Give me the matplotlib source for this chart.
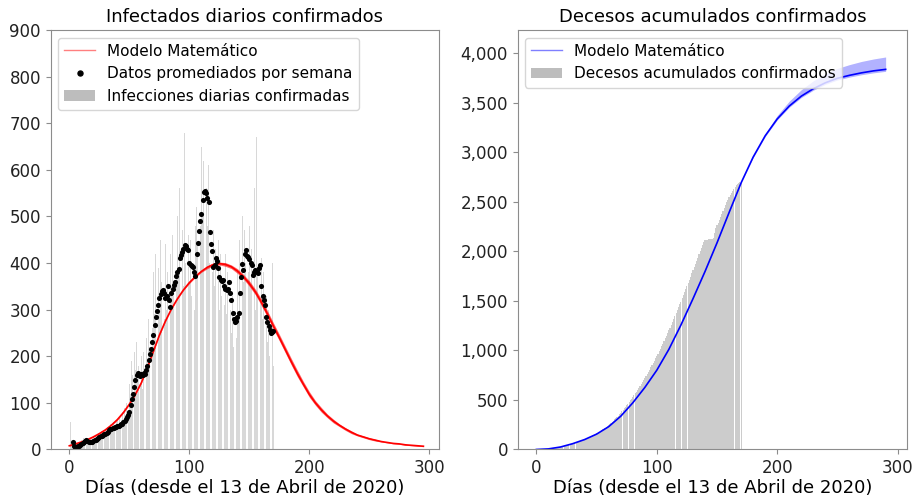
import numpy as np
import matplotlib
matplotlib.use("Agg")
import matplotlib.pyplot as plt
from matplotlib.lines import Line2D
from matplotlib.patches import Patch
from matplotlib.ticker import StrMethodFormatter

# ---------------- data ----------------
daily_cases = [
    2, 60, 10, 5, 3, 8, 2, 12, 6, 15,
    20, 14, 25, 18, 10, 22, 12, 18, 25, 15,
    28, 20, 30, 22, 35, 25, 32, 40, 28, 38,
    45, 30, 48, 40, 55, 42, 50, 60, 45, 58,
    62, 48, 70, 55, 80, 60, 90, 75, 100, 85,
    140, 120, 190, 160, 210, 170, 230, 150, 180, 140,
    200, 130, 210, 160, 240, 190, 280, 220, 300, 260,
    380, 290, 420, 330, 390, 300, 450, 360, 410, 280,
    440, 300, 380, 260, 420, 350, 460, 330, 480, 370,
    500, 380, 560, 420, 470, 350, 680, 400, 520, 460,
    360, 450, 330, 420, 300, 480, 520, 440, 600, 480,
    650, 500, 620, 590, 560, 480, 610, 400, 520, 380,
    470, 350, 430, 380, 450, 300, 420, 330, 400, 310,
    420, 290, 380, 330, 300, 250, 330, 220, 310, 240,
    380, 280, 450, 340, 500, 360, 470, 400, 520, 380,
    480, 350, 430, 330, 560, 300, 671, 380, 450, 320,
    410, 280, 380, 240, 330, 230, 300, 200, 350, 400,
    180,
]

weekly_start_day = 3
weekly_avg = [
    15, 8, 5, 6, 7, 8, 10, 12,
    14, 16, 19, 20, 18, 16, 15, 15, 17, 19,
    20, 21, 22, 24, 26, 28, 29, 31, 33, 34,
    36, 38, 41, 43, 45, 46, 47, 48, 49, 50,
    51, 52, 54, 55, 58, 62, 66, 70, 74, 80,
    95, 108, 120, 135, 150, 160, 165, 162, 158, 162,
    160, 165, 163, 170, 180, 192, 205, 215, 230, 245,
    268, 285, 298, 310, 325, 333, 340, 343, 335, 325,
    330, 350, 320, 306, 335, 345, 352, 360, 372, 380,
    388, 410, 417, 424, 430, 438, 436, 430, 427, 400,
    395, 393, 392, 380, 372, 420, 442, 468, 490, 505,
    535, 553, 555, 550, 540, 530, 467, 440, 425, 392,
    395, 410, 405, 389, 370, 364, 362, 364, 350, 345,
    342, 345, 360, 335, 321, 292, 280, 274, 276, 285,
    292, 335, 370, 399, 385, 420, 429, 415, 412, 408,
    401, 395, 374, 380, 385, 380, 378, 390, 396, 350,
    330, 321, 310, 285, 274, 265, 256, 249, 253, 255,
]

# model for daily infections, every 5 days from day 0 to 295
model_cases = [
    8, 12, 16, 21, 27, 34, 42, 52, 64, 79,
    97, 118, 143, 175, 210, 245, 275, 301, 323, 342,
    358, 371, 382, 391, 397, 399, 397, 392, 383, 371,
    356, 338, 316, 291, 265, 240, 214, 188, 163, 140,
    118, 100, 85, 72, 61, 52, 44, 37, 31, 27,
    23, 20, 17, 15, 13, 12, 10, 9, 8, 7,
]
model_cases_spread = [
    1, 1, 1, 1, 1, 1, 1, 1, 1, 1,
    1, 1, 1, 1, 1, 1, 1, 1, 1, 1,
    2, 2, 2, 3, 3, 3, 4, 4, 5, 5,
    6, 6, 7, 7, 7, 7, 7, 7, 7, 6,
    6, 5, 5, 4, 4, 3, 3, 3, 2, 2,
    2, 2, 1, 1, 1, 1, 1, 1, 1, 1,
]

cum_deaths = [
    0, 0, 0, 1, 1, 2, 2, 3, 4, 5,
    6, 7, 8, 10, 11, 13, 15, 17, 19, 21,
    23, 25, 28, 31, 34, 37, 40, 44, 48, 52,
    56, 60, 64, 68, 72, 76, 80, 85, 90, 95,
    100, 106, 112, 118, 124, 130, 136, 143, 150, 157,
    164, 171, 178, 186, 194, 202, 211, 220, 229, 238,
    247, 258, 269, 280, 292, 304, 316, 329, 342, 356,
    370, 385, 400, 415, 430, 446, 462, 478, 495, 512,
    530, 548, 566, 584, 603, 622, 641, 661, 681, 701,
    721, 742, 763, 784, 806, 828, 850, 873, 896, 920,
    944, 968, 993, 1018, 1043, 1069, 1095, 1121, 1148, 1175,
    1202, 1230, 1258, 1286, 1315, 1344, 1373, 1403, 1433, 1463,
    1493, 1524, 1555, 1586, 1617, 1648, 1680, 1712, 1744, 1776,
    1808, 1840, 1872, 1904, 1936, 1968, 2000, 2030, 2060, 2090,
    2110, 2115, 2118, 2120, 2122, 2125, 2128, 2130, 2180, 2230,
    2260, 2290, 2320, 2350, 2380, 2410, 2440, 2470, 2495, 2520,
    2545, 2570, 2590, 2610, 2630, 2650, 2665, 2680, 2690, 2700,
    2710,
]

# model for cumulative deaths, every 10 days from day 0 to 290
model_deaths = [
    0, 6, 25, 58, 100, 155, 230, 335, 470, 625,
    800, 1010, 1255, 1520, 1795, 2085, 2390, 2690, 2950, 3165,
    3335, 3465, 3565, 3640, 3700, 3745, 3775, 3800, 3820, 3835,
]
model_deaths_up = [
    0, 0, 0, 0, 0, 0, 0, 0, 0, 0,
    0, 0, 0, 0, 0, 0, 0, 0, 10, 20,
    35, 50, 65, 80, 90, 100, 108, 115, 120, 125,
]
model_deaths_down = [
    0, 0, 0, 0, 0, 0, 0, 0, 0, 0,
    0, 0, 0, 0, 0, 0, 0, 0, 5, 8,
    10, 12, 14, 15, 16, 17, 18, 19, 20, 20,
]

title_left = "Infectados diarios confirmados"
title_right = "Decesos acumulados confirmados"
xlabel = "Días (desde el 13 de Abril de 2020)"

# ---------------- figure ----------------
plt.rcParams['font.family'] = ['DejaVu Sans']
fig = plt.figure(figsize=(9.15, 4.97), dpi=100)
ax1 = fig.add_axes([0.0554, 0.0956, 0.4244, 0.844])
ax2 = fig.add_axes([0.5658, 0.0956, 0.4258, 0.844])

spine_col = '#8c8c8c'

# ---- left ----
days_c = np.arange(len(daily_cases))
ax1.bar(days_c, daily_cases, width=0.7, color='#cccccc', alpha=0.75, linewidth=0)
md = np.arange(len(model_cases)) * 5
mc = np.array(model_cases, dtype=float)
ms = np.array(model_cases_spread, dtype=float)
ax1.fill_between(md, mc - ms, mc + ms, color='red', alpha=0.6, linewidth=0)
ax1.plot(md, mc, color='red', lw=1.2)
wd = np.arange(len(weekly_avg)) + weekly_start_day
ax1.plot(wd, weekly_avg, 'o', color='black', ms=3.7, mec='none')
ax1.set_xlim(-15.5, 308)
ax1.set_ylim(0, 900)
ax1.set_title(title_left, fontsize=13)
ax1.set_xlabel(xlabel, fontsize=13, labelpad=1)
h1 = [Line2D([], [], color='red', lw=1, alpha=0.5),
      Line2D([], [], marker='o', ls='none', color='black', ms=3.6),
      Patch(facecolor='#bdbdbd')]
ax1.legend(h1, ["Modelo Matemático", "Datos promediados por semana",
                "Infecciones diarias confirmadas"], loc='upper left', fontsize=11)

# ---- right ----
days_d = np.arange(len(cum_deaths))
ax2.bar(days_d, cum_deaths, width=0.95, color='#c4c4c4', alpha=0.85, linewidth=0)
dd = np.arange(len(model_deaths)) * 10
mdv = np.array(model_deaths, dtype=float)
ax2.fill_between(dd, mdv - np.array(model_deaths_down), mdv + np.array(model_deaths_up),
                 color='blue', alpha=0.3, linewidth=0)
ax2.plot(dd, mdv, color='blue', lw=1.2)
ax2.set_xlim(-15.5, 308)
ax2.set_ylim(0, 4232)
ax2.yaxis.set_major_formatter(StrMethodFormatter('{x:,.0f}'))
ax2.set_title(title_right, fontsize=13)
ax2.set_xlabel(xlabel, fontsize=13, labelpad=1)
h2 = [Line2D([], [], color='blue', lw=1, alpha=0.5), Patch(facecolor='#bdbdbd')]
ax2.legend(h2, ["Modelo Matemático", "Decesos acumulados confirmados"],
           loc='upper left', fontsize=11)

for ax in (ax1, ax2):
    ax.set_xticks([0, 100, 200, 300])
    for s in ax.spines.values():
        s.set_color(spine_col)
    ax.tick_params(colors=spine_col, labelcolor='#222222', labelsize=12)

fig.savefig('out.png', dpi=100)
